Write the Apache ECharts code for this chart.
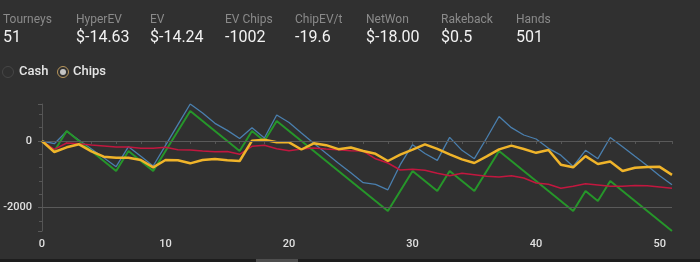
<!DOCTYPE html>
<html>
<head>
<meta charset="utf-8">
<script src="https://cdn.jsdelivr.net/npm/echarts@6/dist/echarts.min.js"></script>
<style>
  html, body { margin: 0; padding: 0; width: 700px; height: 262px; overflow: hidden; background: #303030; font-family: Roboto, "Noto Sans", sans-serif; }
  #chart { position: absolute; left: 0; top: 0; width: 700px; height: 262px; }
  .stat { position: absolute; top: 12px; }
  .lbl { font-size: 12px; color: #8a8a8a; line-height: 14px; white-space: nowrap; }
  .val { font-size: 16px; color: #f2f2f2; line-height: 19px; margin-top: 1px; white-space: nowrap; }
  .radio { position: absolute; top: 66px; width: 10px; height: 10px; border-radius: 50%; box-sizing: content-box; }
  .rtxt { position: absolute; top: 63px; font-size: 13px; line-height: 15px; color: #e6e6e6; font-weight: 500; }
  #scroll { position: absolute; left: 0; top: 259px; width: 700px; height: 3px; background: #1d1d1d; }
  #thumb { position: absolute; left: 256px; top: 259px; width: 42px; height: 3px; background: #4e4e4e; }
</style>
</head>
<body>
<div id="chart"></div>
<div id="stats"></div>
<div class="radio" style="left:2px; border:1px solid #474747;"></div>
<div class="rtxt" style="left:19px;">Cash</div>
<div class="radio" style="left:57px; border:1px solid #b8965c; background:#303030;"><div style="position:absolute;left:2px;top:2px;width:6px;height:6px;border-radius:50%;background:#c4c4c4;"></div></div>
<div class="rtxt" style="left:73px;">Chips</div>
<div id="scroll"></div>
<div id="thumb"></div>
<script>
// ---- header statistics ----
const statLabels = ["Tourneys", "HyperEV", "EV", "EV Chips", "ChipEV/t", "NetWon", "Rakeback", "Hands"];
const statValues = ["51", "$-14.63", "$-14.24", "-1002", "-19.6", "$-18.00", "$0.5", "501"];
const statX = [3, 76, 150, 225, 295, 366, 441, 516];

// ---- chart data (tourney index 0..51) ----
const tourneys = [0,1,2,3,4,5,6,7,8,9,10,11,12,13,14,15,16,17,18,19,20,21,22,23,24,25,26,27,28,29,30,31,32,33,34,35,36,37,38,39,40,41,42,43,44,45,46,47,48,49,50,51];
const blueValues = [0,-80,290,25,-240,-505,-770,-170,-460,-750,-130,490,1110,840,530,320,75,395,90,780,555,240,-70,-370,-665,-955,-1250,-1300,-1465,-710,-110,-375,-580,110,-280,-530,90,735,400,180,60,-220,-425,-765,-280,-530,105,-170,-460,-740,-1040,-1315];
const greenValues = [0,-300,300,0,-300,-600,-900,-300,-600,-900,-300,300,900,600,300,0,-300,300,0,600,300,0,-300,-600,-900,-1200,-1500,-1800,-2100,-1500,-900,-1200,-1500,-900,-1200,-1500,-900,-300,-600,-900,-1200,-1500,-1800,-2100,-1500,-1800,-1200,-1500,-1800,-2100,-2400,-2700];
const redValues = [0,-250,-60,-80,-120,-150,-180,-180,-220,-220,-190,-260,-270,-300,-320,-315,-400,-160,-130,-235,-295,-240,-210,-240,-260,-290,-300,-535,-660,-870,-850,-875,-965,-1045,-965,-1010,-1060,-1080,-1040,-1110,-1260,-1300,-1415,-1360,-1280,-1320,-1360,-1360,-1335,-1340,-1380,-1420];
const yellowValues = [0,-330,-190,-100,-310,-470,-500,-500,-570,-790,-570,-580,-670,-570,-540,-580,-600,10,40,-40,-40,-255,-70,-125,-245,-195,-300,-385,-600,-410,-260,-100,-235,-400,-550,-660,-460,-250,-140,-240,-355,-270,-710,-790,-455,-690,-615,-900,-805,-780,-775,-1015];
const gridLineValues = [0, -2000];

// header
const statsDiv = document.getElementById('stats');
statLabels.forEach((l, i) => {
  const d = document.createElement('div');
  d.className = 'stat';
  d.style.left = statX[i] + 'px';
  d.innerHTML = '<div class="lbl">' + l + '</div><div class="val">' + statValues[i] + '</div>';
  statsDiv.appendChild(d);
});

const pairs = arr => tourneys.map((t, i) => [t, arr[i]]);

const chart = echarts.init(document.getElementById('chart'), null, { renderer: 'canvas' });
chart.setOption({
  backgroundColor: 'transparent',
  animation: false,
  grid: { left: 42, right: 28, top: 104, bottom: 31, containLabel: false },
  xAxis: {
    type: 'value', min: 0, max: 51, interval: 10,
    axisLine: { show: true, lineStyle: { color: '#555555', width: 1 } },
    axisTick: { show: true, length: 3, lineStyle: { color: '#555555' } },
    minorTick: { show: true, splitNumber: 5, length: 3, lineStyle: { color: '#555555' } },
    splitLine: { show: false },
    axisLabel: { color: '#e0e0e0', fontSize: 11, fontWeight: 500, margin: 8, showMaxLabel: false, fontFamily: 'Roboto', formatter: v => String(v) }
  },
  yAxis: {
    type: 'value', min: 'dataMin', max: 'dataMax', splitNumber: 2,
    axisLine: { show: true, lineStyle: { color: '#555555', width: 1 } },
    axisTick: { show: true, length: 4, lineStyle: { color: '#5a5a5a' } },
    minorTick: { show: true, splitNumber: 5, length: 3, lineStyle: { color: '#555555' } },
    splitLine: { show: false },
    axisLabel: { color: '#e0e0e0', fontSize: 11, fontWeight: 500, margin: 10, showMinLabel: false, showMaxLabel: false, fontFamily: 'Roboto', formatter: v => String(v) }
  },
  series: [
    {
      type: 'line', name: 'grid', data: [], silent: true,
      markLine: {
        silent: true, symbol: 'none', label: { show: false },
        lineStyle: { color: '#5a5a5a', width: 1, type: 'solid' },
        data: gridLineValues.map(v => ({ yAxis: v }))
      }
    },
    { type: 'line', name: 'Blue', data: pairs(blueValues), showSymbol: false, symbol: 'none', lineStyle: { color: '#4a7fae', width: 1.3 }, itemStyle: { color: '#4a7fae' }, z: 3 },
    { type: 'line', name: 'Green', data: pairs(greenValues), showSymbol: false, symbol: 'none', lineStyle: { color: '#26962a', width: 2 }, itemStyle: { color: '#26962a' }, z: 3 },
    { type: 'line', name: 'Red', data: pairs(redValues), showSymbol: false, symbol: 'none', lineStyle: { color: '#c2173f', width: 1.5 }, itemStyle: { color: '#c2173f' }, z: 3 },
    { type: 'line', name: 'Yellow', data: pairs(yellowValues), showSymbol: false, symbol: 'none', lineStyle: { color: '#f0b42a', width: 2.5 }, itemStyle: { color: '#f0b42a' }, z: 3 }
  ]
});
</script>
</body>
</html>
